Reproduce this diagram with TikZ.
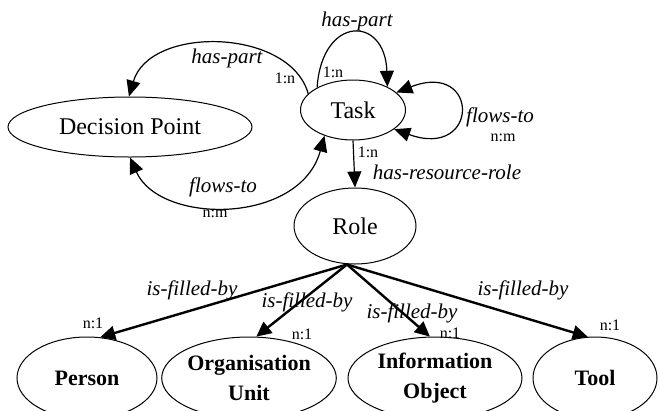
\documentclass[tikz,border=0pt]{standalone}
\usepackage{fontspec}
\setmainfont{Liberation Serif}
\usepackage{tikz}
\usetikzlibrary{shapes.geometric,arrows.meta}

\begin{document}
\begin{tikzpicture}[x=1pt,y=-1pt,
	concept/.style={ellipse,draw,line width=1pt,inner sep=0pt,font=\fontsize{24}{26}\selectfont},
	thing/.style={ellipse,draw,line width=1pt,inner sep=0pt,minimum height=82pt,align=center,font=\fontsize{22}{30}\selectfont\bfseries},
	rel/.style={font=\fontsize{21}{22}\selectfont\itshape},
	card/.style={font=\fontsize{16}{17}\selectfont,inner sep=1pt},
	link/.style={line width=1.2pt,-{Triangle[length=16pt,width=14pt]}},
	twolink/.style={line width=1.2pt,{Triangle[length=16pt,width=14pt]}-{Triangle[length=16pt,width=14pt]}},
	filllink/.style={line width=2.4pt,-{Triangle[length=15pt,width=14pt]}}]
	
	\useasboundingbox (0,0) rectangle (660,410);
	
	\node (dp) [concept,minimum width=244pt,minimum height=60pt] at (130,127) {Decision Point};
	\node (task) [concept,minimum width=105pt,minimum height=60pt] at (353,110) {Task};
	\node (role) [concept,minimum width=122pt,minimum height=76pt] at (355,226) {Role};
	
	\node (person) [thing,minimum width=140pt] at (87,378) {Person};
	\node (org) [thing,minimum width=172pt] at (249,378) {Organisation\\Unit};
	\node (info) [thing,minimum width=174pt] at (435,378) {Information\\Object};
	\node (tool) [thing,minimum width=124pt] at (595,378) {Tool};
	
	% task and decision point
	\draw [link] (task.160) .. controls (290,28) and (150,25) .. (dp.92);
	\draw [twolink] (dp.south) .. controls (160,225) and (300,225) .. (task.222);
	\draw [link] (task.148) .. controls (322,15) and (385,15) .. (task.34);
	\draw [twolink] (task.22) .. controls (480,60) and (480,160) .. (task.-25);
	\draw [link] (task.south) -- (role.north);
	
	\node (hp1) [rel] at (227,58) {has-part};
	\node (hp1c) [card] at (285,78) {1:n};
	\node (ft1) [rel] at (223,187) {flows-to};
	\node (ft1c) [card] at (215,214) {n:m};
	\node (hp2) [rel] at (357,21) {has-part};
	\node (hp2c) [card] at (333,72) {1:n};
	\node (ft2) [rel] at (500,117) {flows-to};
	\node (ft2c) [card] at (503,138) {n:m};
	\node (hrr) [rel] at (447,172) {has-resource-role};
	\node (hrrc) [card] at (368,152) {1:n};
	
	% role and what fills it
	\coordinate (rolefoot) at ([xshift=-8pt]role.south);
	\draw [filllink] (rolefoot) -- (person.72);
	\draw [filllink] (rolefoot) -- (org.80);
	\draw [filllink] (rolefoot) -- (info.97);
	\draw [filllink] (rolefoot) -- (tool.100);
	
	\node (ifb1) [rel] at (192,290) {is-filled-by};
	\node (ifb2) [rel] at (307,302) {is-filled-by};
	\node (ifb3) [rel] at (412,313) {is-filled-by};
	\node (ifb4) [rel] at (523,290) {is-filled-by};
	\node (ifb1c) [card] at (93,323) {n:1};
	\node (ifb2c) [card] at (302,334) {n:1};
	\node (ifb3c) [card] at (450,333) {n:1};
	\node (ifb4c) [card] at (610,325) {n:1};
	
\end{tikzpicture}
\end{document}
